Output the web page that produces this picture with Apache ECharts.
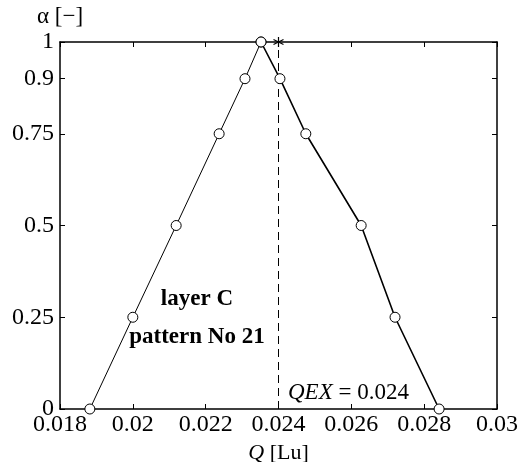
<!DOCTYPE html>
<html>
<head>
<meta charset="utf-8">
<script src="https://cdn.jsdelivr.net/npm/echarts@6/dist/echarts.min.js"></script>
<style>
  html, body { margin: 0; padding: 0; background: #fff; }
  #main { width: 520px; height: 462px; }
</style>
</head>
<body>
<div id="main"></div>
<script>
// membership function alpha(Q), left and right branch
var leftQ = [0.01882, 0.0200, 0.02119, 0.02237, 0.02308, 0.02352];
var leftA = [0, 0.25, 0.5, 0.75, 0.9, 1];
var rightQ = [0.02352, 0.02404, 0.02475, 0.02627, 0.0272, 0.02841];
var rightA = [1, 0.9, 0.75, 0.5, 0.25, 0];
var qex = 0.024;
var yTicks = [0, 0.25, 0.5, 0.75, 0.9, 1];

var myChart = echarts.init(document.getElementById('main'));
var font = 'Liberation Serif';
var fs = 24;

function pairs(xs, ys) {
	return xs.map(function (x, i) { return [x, ys[i]]; });
}

var asterisk = 'path://M0,-5L0,5M-4.33,-2.5L4.33,2.5M-4.33,2.5L4.33,-2.5';

var option = {
	animation: false,
	grid: { left: 60, right: 23, top: 42, bottom: 53, outerBoundsMode: 'none', containLabel: false },
	textStyle: { fontFamily: font, color: '#000' },
	xAxis: [
		{
			type: 'value', min: 0.018, max: 0.03, interval: 0.002,
			axisLine: { onZero: false, lineStyle: { color: '#000', width: 1.5 } },
			axisTick: { inside: true, length: 5, lineStyle: { color: '#000' } },
			axisLabel: { fontFamily: font, fontSize: fs, color: '#000', margin: 4 },
			splitLine: { show: false },
			name: '{i|Q} [Lu]',
			nameLocation: 'middle',
			nameGap: 30,
			nameTextStyle: {
				fontFamily: font, fontSize: 22, color: '#000',
				rich: { i: { fontFamily: font, fontSize: 22, fontStyle: 'italic' } }
			}
		},
		{
			type: 'value', position: 'top', min: 0.018, max: 0.03, interval: 0.002,
			axisLine: { onZero: false, lineStyle: { color: '#000', width: 1.5 } },
			axisTick: { inside: true, length: 5, lineStyle: { color: '#000' } },
			axisLabel: { show: false },
			splitLine: { show: false }
		}
	],
	yAxis: [
		{
			type: 'value', min: 0, max: 1,
			axisLine: { show: true, onZero: false, lineStyle: { color: '#000', width: 1.5 } },
			axisTick: { show: true, inside: true, length: 5, customValues: yTicks, lineStyle: { color: '#000' } },
			axisLabel: { fontFamily: font, fontSize: fs, color: '#000', margin: 6, customValues: yTicks },
			splitLine: { show: false },
			name: 'α [−]',
			nameLocation: 'end',
			nameGap: 14,
			nameTextStyle: { fontFamily: font, fontSize: 23, color: '#000', align: 'center' }
		},
		{
			type: 'value', position: 'right', min: 0, max: 1,
			axisLine: { show: true, onZero: false, lineStyle: { color: '#000', width: 1.5 } },
			axisTick: { show: true, inside: true, length: 5, customValues: yTicks, lineStyle: { color: '#000' } },
			axisLabel: { show: false, customValues: yTicks },
			splitLine: { show: false }
		}
	],
	series: [
		{
			type: 'line',
			data: pairs(leftQ, leftA),
			symbol: 'circle', symbolSize: 10,
			lineStyle: { color: '#000', width: 1 },
			itemStyle: { color: '#fff', borderColor: '#000', borderWidth: 1 }
		},
		{
			type: 'line',
			data: pairs(rightQ, rightA),
			symbol: 'circle', symbolSize: 10,
			lineStyle: { color: '#000', width: 1.6 },
			itemStyle: { color: '#fff', borderColor: '#000', borderWidth: 1 }
		},
		{
			type: 'line',
			data: [[qex, 0], [qex, 1]],
			symbol: 'none',
			lineStyle: { color: '#000', width: 1, type: [8, 5] }
		},
		{
			type: 'scatter',
			data: [[qex, 1]],
			symbol: asterisk, symbolSize: 10,
			itemStyle: { color: 'none', borderColor: '#000', borderWidth: 1.2, opacity: 1 }
		},
		{
			type: 'scatter',
			symbolSize: 0,
			itemStyle: { opacity: 1 },
			data: [
				{ value: [0.02176, 0.30], label: { formatter: 'layer C' } },
				{ value: [0.02176, 0.196], label: { formatter: 'pattern No 21' } }
			],
			label: {
				show: true, position: 'inside', fontFamily: font, fontSize: 23,
				fontWeight: 'bold', color: '#000'
			}
		},
		{
			type: 'scatter',
			symbolSize: 0,
			itemStyle: { opacity: 1 },
			data: [{ value: [0.02426, 0.044] }],
			label: {
				show: true, position: 'right', distance: 0,
				formatter: '{i|QEX} = ' + qex,
				fontFamily: font, fontSize: 23, color: '#000',
				rich: { i: { fontFamily: font, fontSize: 23, fontStyle: 'italic' } }
			}
		}
	]
};
myChart.setOption(option);
</script>
</body>
</html>
